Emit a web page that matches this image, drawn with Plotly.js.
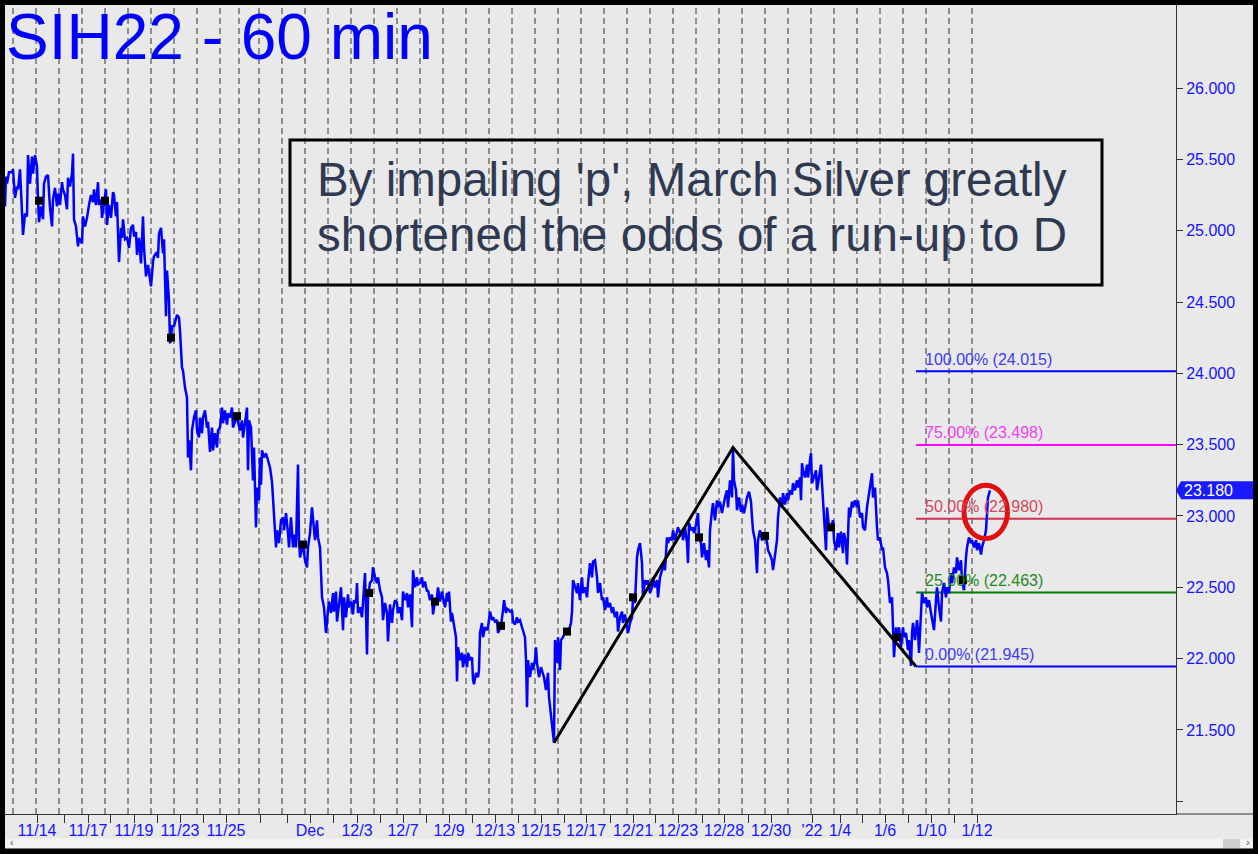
<!DOCTYPE html>
<html><head><meta charset="utf-8">
<script src="https://cdn.plot.ly/plotly-3.0.1.min.js"></script>
<style>
html,body{margin:0;padding:0;background:#e9e9e9;width:1258px;height:854px;overflow:hidden;}
#chart{position:absolute;left:0;top:0;width:1258px;height:854px;}
</style></head><body><div id="chart"></div>
<script>
// ---- data (bar index = hourly bar counted from left edge of the chart) ----
const priceBar = [
0,1,2,4,7,8,10,12,13,15,
17,18,20,22,23,25,27,28,30,32,
33,34,36,38,39,41,43,45,47,48,
50,52,53,55,57,58,60,62,63,65,
67,68,69,71,73,74,77,78,80,82,
84,86,88,89,91,93,94,96,97,99,
101,102,104,106,108,109,111,112,114,116,
117,118,120,122,124,126,128,129,131,132,
134,136,138,139,141,143,144,146,148,149,
151,153,154,156,158,159,161,162,164,165,
166,167,169,171,172,174,175,177,178,180,
182,183,184,186,187,189,191,192,194,195,
197,198,200,202,203,205,207,208,210,212,
213,215,217,218,220,222,223,225,227,228,
232,233,235,237,238,240,242,243,244,246,
248,249,250,251,252,254,255,256,257,259,
261,263,265,267,268,269,271,272,274,276,
278,279,281,283,284,286,288,289,291,293,
294,295,298,300,302,303,305,307,308,310,
312,313,315,316,317,319,320,321,323,324,
326,328,329,331,332,334,336,338,339,341,
343,344,346,348,349,351,352,353,355,357,
358,360,362,363,365,367,368,370,372,373,
375,377,378,380,382,383,385,387,388,390,
392,393,395,397,398,400,402,403,405,407,
408,410,412,413,415,417,418,420,422,423,
425,427,428,430,432,433,435,437,438,440,
442,443,444,446,447,449,451,452,453,455,
457,458,460,462,463,465,467,468,469,471,
473,474,475,477,478,480,482,483,485,487,
488,490,492,493,496,498,499,501,502,504,
505,507,508,510,512,513,515,517,518,520,
521,522,523,525,527,528,530,531,532,534,
536,538,539,541,543,544,545,546,548,549,
550,552,553,555,556,558,559,562,564,566,
567,568,570,572,573,575,577,578,580,582,
583,585,587,588,590,592,593,595,597,598,
600,602,603,605,607,608,610,612,613,615,
617,618,620,622,623,625,627,628,630,632,
633,635,637,638,640,642,643,645,647,648,
650,652,653,655,657,658,660,662,663,665,
667,668,670,672,673,675,677,678,680,682,
683,684,686,688,689,691,693,694,696,697,
699,701,702,704,705,707,708,710,712,713,
715,717,718,720,722,723,725,727,728,729,
731,732,734,736,737,739,741,742,744,746,
747,748,750,752,753,
755,757,760,762,763,765,767,768,770,772,
773,775,777,778,780,782,783,785,787,788,
790,792,793,795,796,797,798,800,802,803,
805,806,807,809,811,812,814,816,817,819,
821,822,824,826,828,829,831,833,834,836,
838,839,841,842,844,845,847,848,850,852,
853,855,857,858,860,862,863,865,867,868,
870,872,873,875,877,878,880,882,883,885,
887,888,889,891,892,894,896,898,899,901,
903,904,906,907,908,910,912,913,914,916,
917,919,921,922,924,926,927,929,931,932,
934,936,937,939,941,942,944,946,947,949,
951,952,954,956,957,959,961,962,964,966,
967,969,971,972,974,976,977,979,981,982,
983,985
];
const priceClose = [
25.17,25.38,25.33,25.41,25.41,25.43,25.23,25.31,25.29,25.43,
25.13,24.97,25.12,25.10,25.53,25.33,25.52,25.40,25.53,25.45,
25.22,25.06,25.17,25.08,25.33,25.38,25.39,25.16,25.03,25.22,
25.30,25.17,25.26,25.18,25.34,25.29,25.25,25.15,25.37,25.31,
25.40,25.54,25.08,25.03,24.89,24.95,24.91,25.10,25.03,25.09,
25.18,25.25,25.20,25.29,25.18,25.34,25.18,25.22,25.09,25.21,
25.29,25.04,25.18,25.09,25.27,25.25,25.10,25.20,24.78,25.02,
24.95,25.08,24.94,24.95,24.88,25.02,25.04,24.96,24.99,24.83,
24.95,24.77,25.10,24.88,24.68,24.76,24.71,24.61,24.78,24.82,
24.84,24.81,24.98,25.02,24.84,24.94,24.40,24.72,24.51,24.21,
24.25,24.33,24.33,24.40,24.41,24.39,24.30,24.04,24.02,23.90,
23.83,23.41,23.53,23.32,23.60,23.69,23.74,23.60,23.55,23.69,
23.58,23.69,23.74,23.62,23.66,23.45,23.62,23.46,23.58,23.48,
23.60,23.62,23.76,23.65,23.74,23.64,23.72,23.69,23.76,23.62,
23.70,23.66,23.60,23.67,23.55,23.65,23.76,23.32,23.67,23.62,
23.25,23.48,23.23,22.92,23.20,23.11,23.41,23.22,23.46,23.41,
23.44,23.38,23.34,23.24,23.13,22.99,22.78,22.90,22.81,22.97,
22.99,22.90,23.02,22.88,22.78,22.99,22.78,22.87,22.78,23.36,
22.83,22.71,22.80,22.69,22.64,22.78,22.88,23.06,22.99,22.83,
22.97,22.85,22.78,22.62,22.43,22.36,22.27,22.18,22.34,22.40,
22.32,22.46,22.33,22.47,22.26,22.38,22.50,22.20,22.43,22.29,
22.45,22.36,22.40,22.31,22.41,22.39,22.53,22.32,22.36,22.29,
22.39,22.60,22.03,22.43,22.53,22.55,22.64,22.57,22.53,22.57,
22.48,22.43,22.27,22.39,22.32,22.12,22.38,22.25,22.34,22.41,
22.39,22.32,22.36,22.27,22.47,22.41,22.46,22.36,22.45,22.22,
22.62,22.50,22.57,22.52,22.53,22.57,22.50,22.54,22.47,22.48,
22.41,22.45,22.31,22.40,22.43,22.50,22.40,22.47,22.43,22.36,
22.46,22.40,22.47,22.26,22.32,22.22,22.15,21.84,22.08,21.99,
22.04,21.94,22.03,21.94,22.04,21.99,22.01,21.85,21.82,21.90,
21.87,21.92,22.18,22.25,22.15,22.22,22.20,22.22,22.33,22.27,
22.29,22.26,22.27,22.18,22.23,22.34,22.41,22.32,22.35,22.34,
22.33,22.34,22.26,22.24,22.29,22.26,22.27,22.22,22.20,22.15,
21.99,21.66,21.99,21.87,21.97,21.92,21.99,22.08,21.97,21.87,
21.94,21.90,21.87,21.78,21.90,21.73,21.66,21.57,21.48,21.41,
22.13,21.97,22.15,21.92,22.13,22.15,22.17,22.19,22.20,22.25,
22.33,22.55,22.50,22.46,22.53,22.41,22.57,22.46,22.50,22.43,
22.53,22.67,22.57,22.68,22.69,22.57,22.46,22.53,22.41,22.43,
22.34,22.43,22.36,22.39,22.32,22.36,22.29,22.33,22.19,22.29,
22.33,22.25,22.31,22.22,22.18,22.25,22.29,22.43,22.39,22.71,
22.76,22.81,22.67,22.43,22.55,22.52,22.55,22.46,22.50,22.57,
22.50,22.55,22.43,22.57,22.62,22.67,22.62,22.85,22.81,22.85,
22.83,22.90,22.83,22.89,22.92,22.88,22.90,22.83,22.92,22.81,
22.67,22.95,22.90,22.92,22.88,22.94,23.02,22.85,22.81,22.71,
22.81,22.69,22.76,22.64,22.90,23.04,23.09,22.97,23.11,23.06,
23.10,23.02,23.06,23.13,23.18,23.06,23.25,23.13,23.48,23.25,
23.18,23.04,23.13,23.03,23.08,23.02,23.09,23.13,23.17,23.10,
22.99,22.90,22.83,22.60,22.83,
22.90,22.83,22.86,22.82,22.76,22.73,22.69,22.62,22.74,22.83,
22.99,23.13,23.06,23.16,23.08,23.16,23.11,23.18,23.15,23.23,
23.18,23.25,23.20,23.27,23.11,23.37,23.32,23.27,23.36,23.27,
23.39,23.44,23.23,23.27,23.32,23.18,23.27,23.36,23.23,22.95,
22.76,23.06,22.92,22.92,22.97,22.83,22.76,22.88,22.78,22.89,
22.74,22.88,22.81,22.66,23.06,22.99,23.10,23.06,23.11,23.06,
23.11,22.99,23.02,22.92,22.90,23.06,23.11,23.18,23.30,23.13,
23.20,22.92,22.83,22.85,22.76,22.78,22.64,22.60,22.55,22.39,
22.43,22.22,22.01,22.22,22.13,22.22,22.08,22.22,22.15,22.18,
22.06,22.13,21.95,22.18,22.25,22.13,22.27,22.20,22.04,22.32,
22.46,22.39,22.43,22.36,22.41,22.32,22.27,22.20,22.41,22.50,
22.36,22.26,22.46,22.53,22.43,22.50,22.46,22.60,22.53,22.64,
22.60,22.71,22.62,22.69,22.55,22.48,22.71,22.78,22.85,22.81,
22.83,22.78,22.83,22.76,22.81,22.73,22.78,22.83,22.90,23.06,
23.13,23.18
];
const markerBar = [34,100,166,232,298,364,430,496,562,628,694,760,826,892,958];
const markerPrice = [25.21,25.21,24.25,23.70,22.80,22.46,22.40,22.23,22.19,22.43,22.85,22.86,22.92,22.15,22.55];
const patternBar = [549,728,911];
const patternPrice = [21.41,23.48,21.945];
const fibLabel = ['100.00%','75.00%','50.00%','25.00%','0.00%'];
const fibValue = [24.015,23.498,22.980,22.463,21.945];
const sessionStartBar = [8,31,54,77,100,123,146,169,192,215,234,254,277,300,323,346,369,392,415,438,461,484,507,530,553,576,599,622,645,668,691,714,737,760,783,806,829,852,875,898,921,944,967];
const tickBar = [32,59,83,105,129,152,175,198,221,255,282,305,328,352,375,398,421,444,467,490,513,536,559,581,605,628,650,673,697,719,743,766,807,835,857,880,903,926,949,972];
const tickLabel = ['11/14','','11/17','','11/19','','11/23','','11/25','','','Dec','','12/3','','12/7','','12/9','','12/13','','12/15','','12/17','','12/21','','12/23','','12/28','','12/30',"'22",'1/4','','1/6','','1/10','','1/12'];
const yTickVals = [21,21.5,22,22.5,23,23.5,24,24.5,25,25.5,26];
const yTickText = ['','21.500','22.000','22.500','23.000','23.500','24.000','24.500','25.000','25.500','26.000'];
const lastPrice = 23.180;

// ---- styling / page geometry ----
const FONT = "Arial, 'Liberation Sans', sans-serif";
const BLUE = '#1414ff';
const fibLineColor = ['#0000ff','#ff00ff','#d2304f','#007f00','#0000ff'];
const fibTextColor = ['#3c3cf0','#f040f0','#d4465e','#1e8a1e','#3c3cf0'];
const PL = 5, PR = 1176, PT = 5, PB = 814;         // plot area in page pixels
const PW = PR - PL, PH = PB - PT;
const px = v => (v - PL) / PW;                      // page x -> paper x
const py = v => (PB - v) / PH;                      // page y -> paper y

const traces = [
  {x: priceBar, y: priceClose, type:'scatter', mode:'lines', line:{color:'#0000ff', width:2.5}, hoverinfo:'skip'},
  {x: patternBar, y: patternPrice, type:'scatter', mode:'lines', line:{color:'#000000', width:3}, hoverinfo:'skip'},
  {x: markerBar, y: markerPrice, type:'scatter', mode:'markers', marker:{symbol:'square', size:8, color:'#000000'}, hoverinfo:'skip'}
];

const shapes = [];
sessionStartBar.forEach(b => shapes.push({type:'line', xref:'x', yref:'paper', x0:b, x1:b, y0:0, y1:1,
  line:{color:'#333333', width:1, dash:'6px,4px'}, layer:'below'}));
fibValue.forEach((v,i) => shapes.push({type:'line', xref:'x', yref:'y', x0:patternBar[2], x1:PW, y0:v, y1:v,
  line:{color:fibLineColor[i], width:2}, layer:'below'}));
// comment box
shapes.push({type:'rect', xref:'paper', yref:'paper', x0:px(290), x1:px(1102), y0:py(285), y1:py(140),
  line:{color:'#000', width:3}, fillcolor:'rgba(0,0,0,0)'});
// red circle
shapes.push({type:'circle', xref:'x', yref:'y', x0:959, x1:1002.5, y0:22.842, y1:23.216,
  line:{color:'#e01010', width:5}});
// x axis line continued under the price scale
shapes.push({type:'line', xref:'paper', yref:'paper', x0:1, x1:px(1253), y0:0, y1:0, line:{color:'#333', width:1}});
// last price flag
const hh = 9/142.65;
shapes.push({type:'path', xref:'paper', yref:'y',
  path:`M1,${lastPrice} L${px(1181)},${lastPrice+hh} L${px(1253)},${lastPrice+hh} L${px(1253)},${lastPrice-hh} L${px(1181)},${lastPrice-hh} Z`,
  fillcolor:'#1a1aff', line:{width:0}});
// scroll bar strip
shapes.push({type:'rect', xref:'paper', yref:'paper', x0:px(5), x1:px(1253), y0:py(848.5), y1:py(838.5),
  fillcolor:'#f3f3f3', line:{width:0}, layer:'below'});
shapes.push({type:'rect', xref:'paper', yref:'paper', x0:px(1223), x1:px(1240), y0:py(848), y1:py(839),
  fillcolor:'#cfcfcf', line:{width:0}, layer:'below'});
// black frame around the whole picture
[[0,0,1258,5],[0,0,5,854],[1253,0,1258,854],[0,848.5,1258,854]].forEach(r => shapes.push({type:'rect',
  xref:'paper', yref:'paper', x0:px(r[0]), x1:px(r[2]), y0:py(r[3]), y1:py(r[1]), fillcolor:'#000', line:{width:0}}));

const annotations = [
  {text:'SIH22 - 60 min', xref:'paper', yref:'paper', x:px(5), y:py(37), xanchor:'left', yanchor:'middle',
   showarrow:false, borderpad:0, font:{family:FONT, size:64, color:'#0000ff'}},
  {text:"By impaling 'p', March Silver greatly", xref:'paper', yref:'paper', x:px(315), y:py(180),
   xanchor:'left', yanchor:'middle', showarrow:false, font:{family:FONT, size:47.5, color:'#2f3a52'}},
  {text:'shortened the odds of a run-up to D', xref:'paper', yref:'paper', x:px(315), y:py(235),
   xanchor:'left', yanchor:'middle', showarrow:false, font:{family:FONT, size:47.5, color:'#2f3a52'}},
  {text:lastPrice.toFixed(3), xref:'paper', yref:'y', x:px(1182), y:lastPrice, xanchor:'left', yanchor:'middle',
   showarrow:false, font:{family:FONT, size:16, color:'#ffffff'}},
  {text:'\u2039', xref:'paper', yref:'paper', x:px(12), y:py(842), xanchor:'center', yanchor:'middle',
   showarrow:false, borderpad:0, font:{family:FONT, size:11, color:'#555'}},
  {text:'\u203A', xref:'paper', yref:'paper', x:px(1248), y:py(842), xanchor:'center', yanchor:'middle',
   showarrow:false, borderpad:0, font:{family:FONT, size:11, color:'#555'}}
];
fibValue.forEach((v,i) => annotations.push({text:`${fibLabel[i]} (${v.toFixed(3)})`, xref:'x', yref:'y',
  x:patternBar[2]+7, y:v, yshift:12, xanchor:'left', yanchor:'middle', showarrow:false,
  font:{family:FONT, size:16, color:fibTextColor[i]}}));

const layout = {
  width:1258, height:854,
  margin:{l:PL, r:1258-PR, t:PT, b:854-PB, pad:0},
  paper_bgcolor:'#e9e9e9', plot_bgcolor:'#e9e9e9',
  showlegend:false,
  xaxis:{range:[0,PW], tickmode:'array', tickvals:tickBar, ticktext:tickLabel, ticks:'outside', ticklen:8,
    tickcolor:'#333', showline:true, linecolor:'#333', linewidth:1, showgrid:false, zeroline:false,
    ticklabelstandoff:-6, tickfont:{family:FONT, size:16, color:BLUE}, fixedrange:true},
  yaxis:{side:'right', range:[20.911,26.582], tickmode:'array', tickvals:yTickVals, ticktext:yTickText,
    ticks:'outside', ticklen:6, tickcolor:'#333', showline:true, linecolor:'#333', linewidth:1,
    showgrid:false, zeroline:false, tickfont:{family:FONT, size:16, color:BLUE}, fixedrange:true},
  shapes:shapes, annotations:annotations
};
Plotly.newPlot('chart', traces, layout, {staticPlot:true, displayModeBar:false});
</script></body></html>
